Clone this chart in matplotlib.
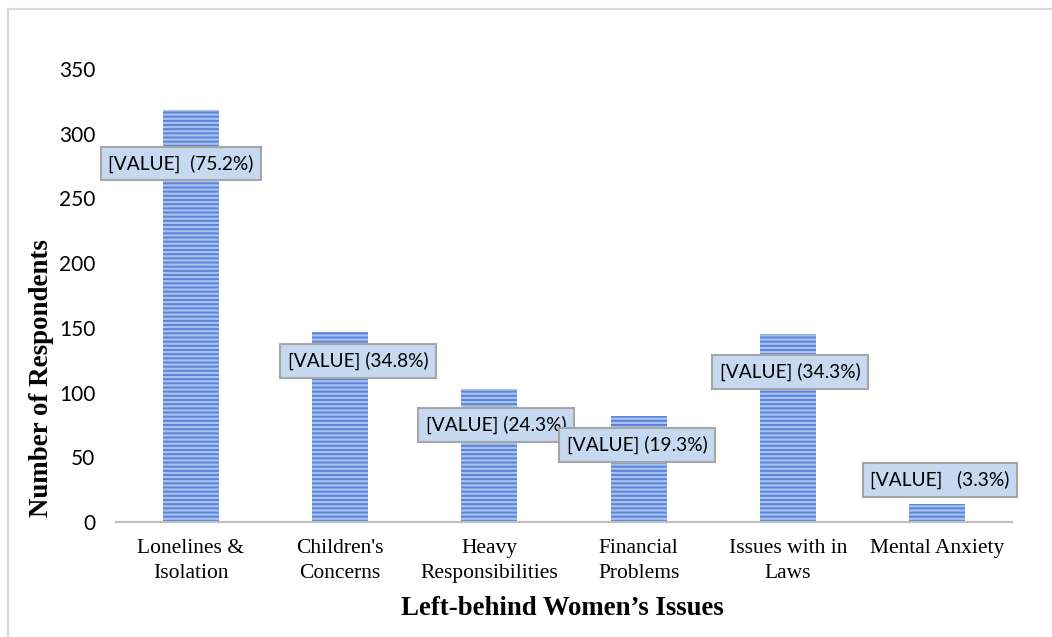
import matplotlib.pyplot as plt
from matplotlib.patches import Rectangle

categories = ['Lonelines &\nIsolation', "Children's\nConcerns", 'Heavy\nResponsibilities',
              'Financial\nProblems', 'Issues with in\nLaws', 'Mental Anxiety']
respondents = [318, 147, 103, 82, 145, 14]
percent = [75.2, 34.8, 24.3, 19.3, 34.3, 3.3]
label_gap = ['  ', ' ', ' ', ' ', ' ', '   ']

# where the value boxes sit (x offset from bar, y in data units)
label_dx = [-0.065, 0.12, 0.045, -0.01, 0.013, 0.018]
label_y = [277, 124.4, 75, 59.5, 116, 32.5]

plt.rcParams['hatch.linewidth'] = 1.6

fig = plt.figure(figsize=(10.52, 6.37), dpi=100)
ax = fig.add_axes([116 / 1052, 1 - 522 / 637, 896 / 1052, 453 / 637])

x = list(range(len(categories)))
ax.bar(x, respondents, width=0.375, color='#5a84d8', edgecolor='#a8c1ee',
       linewidth=0, hatch='----', zorder=2)

for i in x:
    ax.text(i + label_dx[i], label_y[i], f'[VALUE]{label_gap[i]}({percent[i]}%)',
            ha='center', va='center', fontsize=13.8, family='Lato', zorder=3 + i,
            bbox=dict(boxstyle='square,pad=0.4', facecolor='#c6d9f1',
                      edgecolor='#a6a6a6', linewidth=1.5))

ax.set_xlim(-0.5, 5.5)
ax.set_ylim(0, 350)
ax.set_yticks(range(0, 351, 50))
ax.set_xticks(x)
ax.set_xticklabels(categories, family='Liberation Serif', fontsize=15.5,
                   linespacing=1.45)
for lab in ax.get_yticklabels():
    lab.set_family('Lato')
    lab.set_fontsize(15)
ax.tick_params(axis='x', length=0, pad=12)
ax.tick_params(axis='y', length=0, pad=15)

for side in ['left', 'right', 'top']:
    ax.spines[side].set_visible(False)
ax.spines['bottom'].set_color('#bfbfbf')
ax.spines['bottom'].set_linewidth(1.6)

ax.set_xlabel('Left-behind Women’s Issues', family='Liberation Serif',
              fontsize=19.3, fontweight='bold')
ax.set_ylabel('Number of Respondents', family='Liberation Serif',
              fontsize=19.4, fontweight='bold')
ax.xaxis.set_label_coords(0.498, -0.19)
ax.yaxis.set_label_coords(-0.0826, 0.318)
ax.xaxis.label.set_va('center')
ax.yaxis.label.set_va('center')

# light frame round the chart area
fig.patches.append(Rectangle((8 / 1052, -0.1), 1.2, 1 - 9 / 637 + 0.1,
                             transform=fig.transFigure, fill=False,
                             edgecolor='#d9d9d9', linewidth=1.5))

plt.savefig('out.png', dpi=100)
